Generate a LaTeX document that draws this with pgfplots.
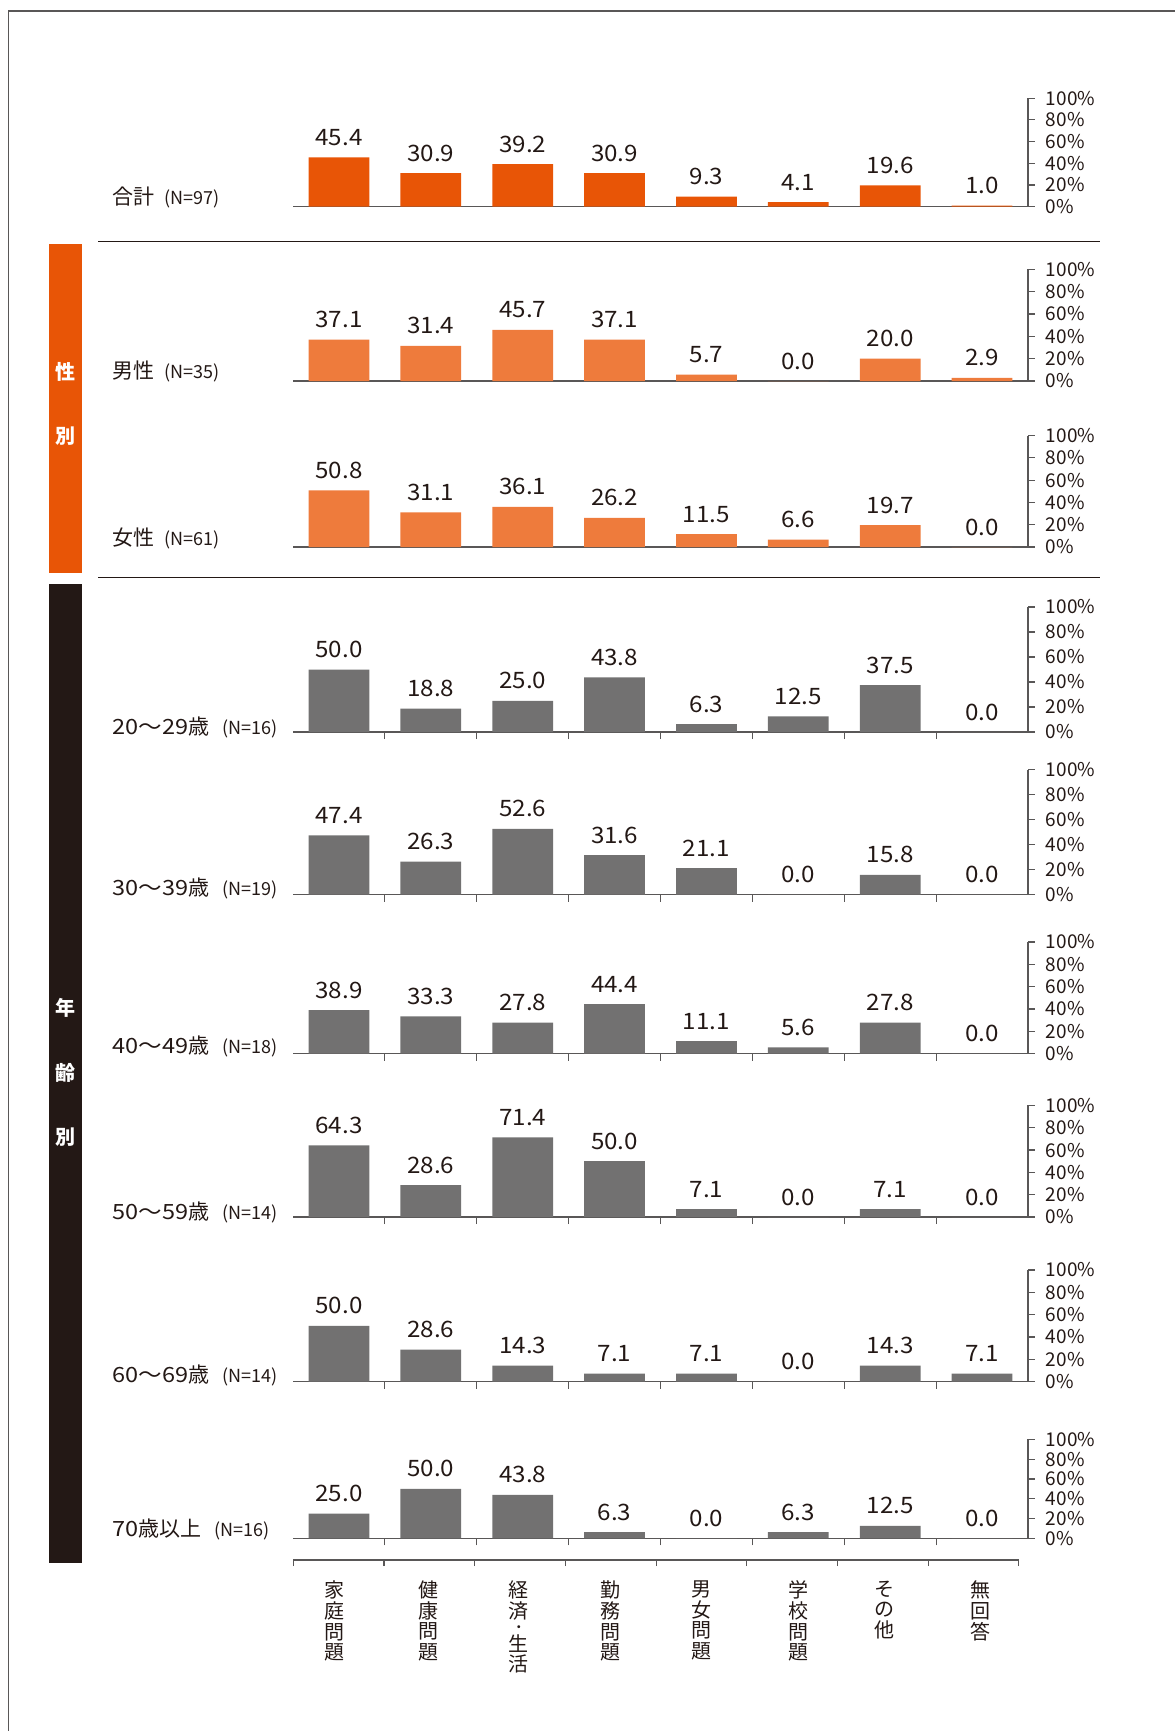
\documentclass[border=0pt]{standalone}
\usepackage{fontspec}
\setmainfont{Noto Sans CJK JP}
\newfontfamily\widefont[FakeStretch=1.12]{Noto Sans CJK JP}
\newfontfamily\numfont[FakeStretch=1.07]{Noto Sans CJK JP}
\usepackage{pgfplots}
\pgfplotsset{compat=1.18}
\definecolor{txt}{HTML}{231815}
\definecolor{orgA}{HTML}{E85506}
\definecolor{orgB}{HTML}{EE7B3C}
\definecolor{barg}{HTML}{727171}
\definecolor{darkbar}{HTML}{231815}
\definecolor{axgray}{HTML}{595757}
\definecolor{framegray}{HTML}{595757}
\pgfkeys{/pgf/number format/assume math mode=true}
\pgfplotsset{panel/.style={
  anchor=south west, width=367.5pt, scale only axis,
  xmin=0, xmax=8, ymin=0, ymax=100,
  axis x line*=bottom, axis y line*=right, xtick=\empty,
  ytick={0,20,40,60,80,100}, yticklabels={0\%,20\%,40\%,60\%,80\%,100\%},
  tick align=outside, major tick length=3.5pt,
  axis line style={draw=axgray, line width=0.6pt},
  tick style={draw=axgray, line width=0.6pt},
  yticklabel style={font=\fontsize{9.5}{10}\selectfont, text=txt, anchor=west, inner sep=0pt, xshift=5.3pt},
  ybar, bar width=0.66, bar shift=0pt,
  point meta=y,
  nodes near coords={\pgfmathprintnumber[fixed,fixed zerofill,precision=1]{\pgfplotspointmeta}},
  every node near coord/.append style={font=\fontsize{11.3}{12}\selectfont\numfont, text=txt, anchor=base, inner sep=0pt, yshift=6pt},
  clip=false,
  /pgf/number format/assume math mode=true,
}}
\newcommand{\panel}[8]{%
  \begin{axis}[panel, at={(146.5pt,#1)}, height=#2, #5]
  \addplot[fill=#3, draw=none] coordinates {#4};
  \end{axis}
  \node[anchor=base west, inner sep=0pt, text=txt] at (56pt,#1+#8) {\fontsize{10.5}{12}\selectfont #6\hspace{5pt}\fontsize{9}{10}\selectfont (#7)};
}
\begin{document}
\begin{tikzpicture}
\path[use as bounding box] (0,0) rectangle (587.5pt,-865.5pt);
\draw[framegray, line width=0.75pt] (4.2pt,-865.5pt) -- (4.2pt,-5.5pt) -- (587.5pt,-5.5pt);
\fill[orgA] (24.3pt,-122pt) rectangle (40.85pt,-286.5pt);
\fill[darkbar] (24.3pt,-292pt) rectangle (40.85pt,-781.3pt);
\tikzset{sidelab/.style={text=white, inner sep=0pt, font=\fontsize{10}{10}\selectfont\bfseries}}
\node[sidelab] at (32.6pt,-186pt) {性};
\node[sidelab] at (32.6pt,-218pt) {別};
\node[sidelab] at (32.6pt,-504pt) {年};
\node[sidelab] at (32.6pt,-536.5pt) {齢};
\node[sidelab] at (32.6pt,-568.75pt) {別};
\draw[txt, line width=0.7pt] (49.2pt,-120.85pt) -- (550pt,-120.85pt);
\draw[txt, line width=0.7pt] (49.2pt,-288.65pt) -- (550pt,-288.65pt);

\panel{-103.3pt}{54.2pt}{orgA}{(0.5,45.4) (1.5,30.9) (2.5,39.2) (3.5,30.9) (4.5,9.3) (5.5,4.1) (6.5,19.6) (7.5,1.0)}{}{合計}{N=97}{1pt}
\panel{-190.5pt}{55.85pt}{orgB}{(0.5,37.1) (1.5,31.4) (2.5,45.7) (3.5,37.1) (4.5,5.7) (5.5,0.0) (6.5,20.0) (7.5,2.9)}{}{男性}{N=35}{1.5pt}
\panel{-273.5pt}{55.75pt}{orgB}{(0.5,50.8) (1.5,31.1) (2.5,36.1) (3.5,26.2) (4.5,11.5) (5.5,6.6) (6.5,19.7) (7.5,0.0)}{}{女性}{N=61}{1pt}
\panel{-366pt}{62.5pt}{barg}{(0.5,50.0) (1.5,18.8) (2.5,25.0) (3.5,43.8) (4.5,6.3) (5.5,12.5) (6.5,37.5) (7.5,0.0)}{xtick={1,2,...,7}, xticklabels={}}{{\widefont 20〜29}歳\hspace{1.5pt}}{N=16}{-1.2pt}
\panel{-447.25pt}{62.4pt}{barg}{(0.5,47.4) (1.5,26.3) (2.5,52.6) (3.5,31.6) (4.5,21.1) (5.5,0.0) (6.5,15.8) (7.5,0.0)}{xtick={1,2,...,7}, xticklabels={}}{{\widefont 30〜39}歳\hspace{1.5pt}}{N=19}{-0.5pt}
\panel{-526.75pt}{55.75pt}{barg}{(0.5,38.9) (1.5,33.3) (2.5,27.8) (3.5,44.4) (4.5,11.1) (5.5,5.6) (6.5,27.8) (7.5,0.0)}{xtick={1,2,...,7}, xticklabels={}}{{\widefont 40〜49}歳\hspace{1.5pt}}{N=18}{0pt}
\panel{-608.5pt}{55.8pt}{barg}{(0.5,64.3) (1.5,28.6) (2.5,71.4) (3.5,50.0) (4.5,7.1) (5.5,0.0) (6.5,7.1) (7.5,0.0)}{xtick={1,2,...,7}, xticklabels={}}{{\widefont 50〜59}歳\hspace{1.5pt}}{N=14}{-1pt}
\panel{-690.75pt}{55.75pt}{barg}{(0.5,50.0) (1.5,28.6) (2.5,14.3) (3.5,7.1) (4.5,7.1) (5.5,0.0) (6.5,14.3) (7.5,7.1)}{xtick={1,2,...,7}, xticklabels={}}{{\widefont 60〜69}歳\hspace{1.5pt}}{N=14}{-0.3pt}
\panel{-769.15pt}{49.5pt}{barg}{(0.5,25.0) (1.5,50.0) (2.5,43.8) (3.5,6.3) (4.5,0.0) (5.5,6.3) (6.5,12.5) (7.5,0.0)}{xtick={1,2,...,7}, xticklabels={}}{{\widefont 70}歳以上\hspace{1.5pt}}{N=16}{1pt}

\begin{axis}[at={(146.7pt,-780pt)}, anchor=south west, width=362.75pt, height=10pt, scale only axis,
  xmin=0, xmax=8, ymin=0, ymax=1, axis x line*=bottom, axis y line=none, ytick=\empty,
  xtick={0.448,1.49,2.487,3.5,4.5,5.57,6.52,7.58},
  xticklabels={{家\\庭\\問\\題},{健\\康\\問\\題},{経\\済\\[-3.3pt]{\fontsize{7}{7}\selectfont ・}\\[-1pt]生\\活},{勤\\務\\問\\題},{男\\女\\問\\題},{学\\校\\問\\題},{そ\\の\\他},{無\\回\\答}},
  minor xtick={0,1,...,8}, major tick length=0pt, minor tick length=3pt, tick align=outside,
  axis line style={draw=axgray, line width=0.6pt}, tick style={draw=axgray, line width=0.6pt},
  xticklabel style={font=\fontsize{10}{10.35}\selectfont, text=txt, align=center, anchor=north, inner sep=0pt, yshift=-10.2pt}]
\addplot[draw=none] coordinates {(0,0)};
\end{axis}
\end{tikzpicture}
\end{document}
